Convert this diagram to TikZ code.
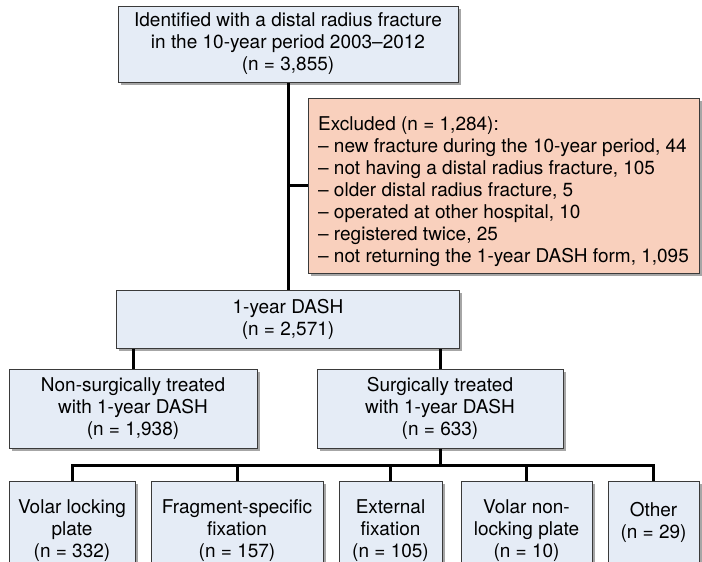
\documentclass[tikz,border=0pt]{standalone}
\usepackage{fontspec}
\setmainfont{TeX Gyre Heros}
\usetikzlibrary{shadows}
\definecolor{boxblue}{HTML}{E5ECF6}
\definecolor{boxorange}{HTML}{F9D0BD}
\definecolor{boxline}{HTML}{3A3A3A}
\begin{document}
\begin{tikzpicture}[x=1pt,y=-1pt,
  box/.style={draw=boxline, line width=1pt, fill=boxblue, align=center, inner sep=0pt,
    font=\fontsize{19}{22}\selectfont,
    drop shadow={shadow xshift=2.5pt, shadow yshift=-2.5pt, opacity=0.35, fill=black}},
  conn/.style={line width=3pt, draw=black, line join=miter}]
\useasboundingbox (0,0) rectangle (702,562);

\node[box, minimum width=340pt, minimum height=76pt] (top) at (288,44)
  {Identified with a distal radius fracture\\in the 10-year period 2003–2012\\(n = 3,855)};
\node[box, fill=boxorange, align=left, minimum width=391pt, minimum height=175pt] (excl) at (503.5,185.5)
  {\rule{0pt}{26pt}Excluded (n = 1,284):\\
   – new fracture during the 10-year period, 44\\
   – not having a distal radius fracture, 105\\
   – older distal radius fracture, 5\\
   – operated at other hospital, 10\\
   – registered twice, 25\\
   – not returning the 1-year DASH form, 1,095};
\node[box, minimum width=343pt, minimum height=58pt] (dash) at (288,319)
  {1-year DASH\\(n = 2,571)};
\node[box, minimum width=248pt, minimum height=79pt] (nonsurg) at (133,408.5)
  {Non-surgically treated\\with 1-year DASH\\(n = 1,938)};
\node[box, minimum width=246pt, minimum height=79pt] (surg) at (440,408.5)
  {Surgically treated\\with 1-year DASH\\(n = 633)};

\node[box, minimum width=126pt, minimum height=100pt] (vlp) at (72,531)
  {Volar locking\\plate\\(n = 332)};
\node[box, minimum width=172pt, minimum height=100pt] (fsf) at (237,531)
  {Fragment-specific\\fixation\\(n = 157)};
\node[box, minimum width=103pt, minimum height=100pt] (ext) at (390.5,531)
  {External\\fixation\\(n = 105)};
\node[box, minimum width=131pt, minimum height=100pt] (vnl) at (526.5,531)
  {Volar non-\\locking plate\\(n = 10)};
\node[box, minimum width=91pt, minimum height=100pt] (oth) at (653.5,531)
  {Other\\(n = 29)\\\mbox{}};

\coordinate (busy) at (0,465);

\draw[conn] (top.south) -- (dash.north);
\draw[conn] (top.south |- excl.west) -- (excl.west);
\draw[conn] (nonsurg.north) -- (nonsurg.north |- dash.south);
\draw[conn] (surg.north) -- (surg.north |- dash.south);
\draw[conn] (surg.south) -- (surg.south |- busy);
\draw[conn] (vlp.north) -- (vlp.north |- busy) -- (oth.north |- busy) -- (oth.north);
\draw[conn] (fsf.north) -- (fsf.north |- busy);
\draw[conn] (ext.north) -- (ext.north |- busy);
\draw[conn] (vnl.north) -- (vnl.north |- busy);
\end{tikzpicture}
\end{document}
